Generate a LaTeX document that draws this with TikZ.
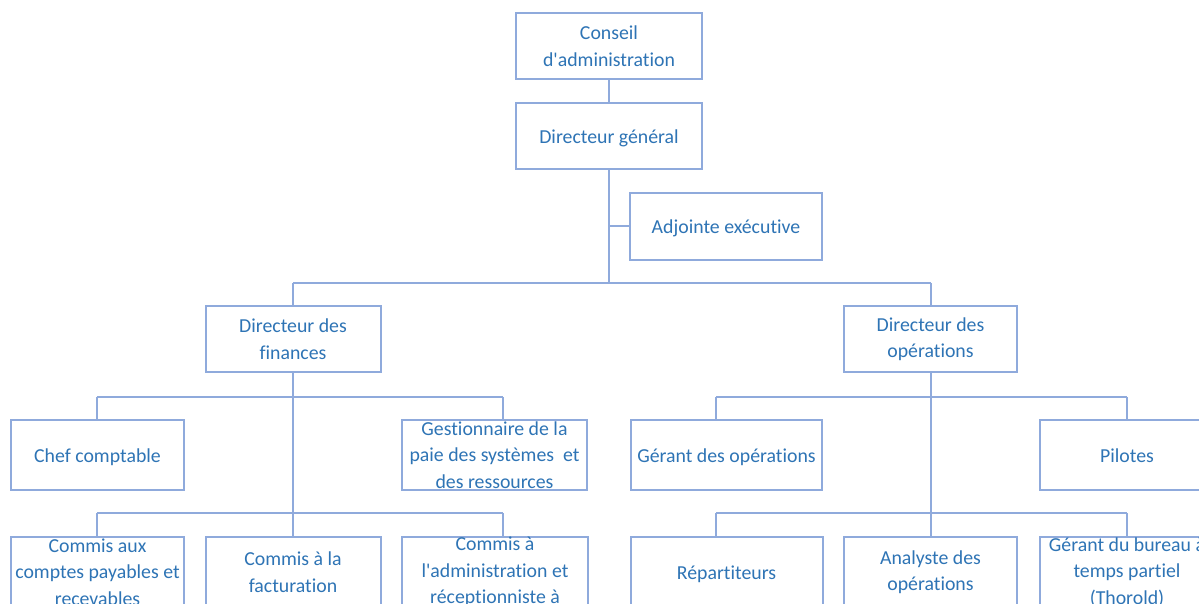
\documentclass[tikz,border=0pt]{standalone}
\usepackage{fontspec}
\setmainfont{Carlito}[Ligatures={ResetAll,NoCommon}]
\newcommand\apos{\XeTeXglyph\XeTeXcharglyph"27\relax}
\definecolor{boxline}{RGB}{143,170,220}
\definecolor{boxtext}{RGB}{46,116,181}
\begin{document}
\begin{tikzpicture}[x=1pt,y=-1pt,
  box/.style={draw=boxline,line width=2pt,fill=white,inner sep=0pt,align=center,
    text=boxtext,font=\fontsize{19.8}{26.5}\selectfont},
  single/.style={text height=17.5pt,text depth=3.5pt},
  link/.style={draw=boxline,line width=2pt}]
\useasboundingbox (0,0) rectangle (1199,603);
\clip (0,0) rectangle (1199,603);
\coordinate (b1) at (609,283);
\coordinate (b2l) at (97,397);
\coordinate (b2r) at (503,397);
\coordinate (b3l) at (97,513);
\coordinate (b3r) at (503,513);
\coordinate (c2l) at (716,397);
\coordinate (c2r) at (1127,397);
\coordinate (c3l) at (716,513);
\coordinate (c3r) at (1127,513);
% boxes
\node[box,minimum width=186pt,minimum height=66pt] (ca) at (609,46) {Conseil\\d\apos administration};
\node[box,single,minimum width=186pt,minimum height=66pt] (dg) at (609,136) {Directeur général};
\node[box,single,minimum width=192pt,minimum height=67pt] (adj) at (726,226) {Adjointe exécutive};
\node[box,minimum width=175pt,minimum height=66pt] (df) at (293,339) {Directeur des\\finances};
\node[box,minimum width=173pt,minimum height=66pt] (do) at (930.5,339) {Directeur des\\opérations};
\node[box,single,minimum width=173pt,minimum height=70pt] (chef) at (97.5,455) {Chef comptable};
\node[box,minimum width=185pt,minimum height=70pt] (gest) at (494.5,455) {Gestionnaire de la\\paie des systèmes\ \ et\\des ressources};
\node[box,single,minimum width=191pt,minimum height=70pt] (gop) at (726.5,455) {Gérant des opérations};
\node[box,single,minimum width=174pt,minimum height=70pt] (pil) at (1127,455) {Pilotes};
\node[box,minimum width=173pt,minimum height=70pt] (cap) at (97.5,572) {Commis aux\\comptes payables et\\recevables};
\node[box,minimum width=175pt,minimum height=70pt] (cf) at (293,572) {Commis à la\\facturation};
\node[box,minimum width=186pt,minimum height=70pt] (cadm) at (495,572) {Commis à\\l\apos administration et\\réceptionniste à};
\node[box,single,minimum width=192pt,minimum height=70pt] (rep) at (726.5,572) {Répartiteurs};
\node[box,minimum width=173pt,minimum height=70pt] (ana) at (930.5,572) {Analyste des\\opérations};
\node[box,minimum width=174pt,minimum height=70pt] (gb) at (1127,572) {Gérant du bureau à\\temps partiel\\(Thorold)};
% links
\draw[link] (ca.south) -- (dg.north);
\draw[link] (dg.south) -- (b1);
\draw[link] (adj.west) -- (adj.west -| dg.south);
\draw[link] (b1 -| df.north) -- (b1 -| do.north);
\draw[link] (b1 -| df.north) -- (df.north);
\draw[link] (b1 -| do.north) -- (do.north);
\draw[link] (df.south) -- (df.south |- b3l);
\draw[link] (do.south) -- (do.south |- c3l);
\draw[link] (b2l) -- (b2r);
\draw[link] (b2l) -- (b2l |- chef.north);
\draw[link] (b2r) -- (b2r |- gest.north);
\draw[link] (c2l) -- (c2r);
\draw[link] (c2l) -- (c2l |- gop.north);
\draw[link] (c2r) -- (c2r |- pil.north);
\draw[link] (b3l) -- (b3r);
\draw[link] (b3l) -- (b3l |- cap.north);
\draw[link] (b3l -| cf.north) -- (cf.north);
\draw[link] (b3r) -- (b3r |- cadm.north);
\draw[link] (c3l) -- (c3r);
\draw[link] (c3l) -- (c3l |- rep.north);
\draw[link] (c3l -| ana.north) -- (ana.north);
\draw[link] (c3r) -- (c3r |- gb.north);
\end{tikzpicture}
\end{document}
